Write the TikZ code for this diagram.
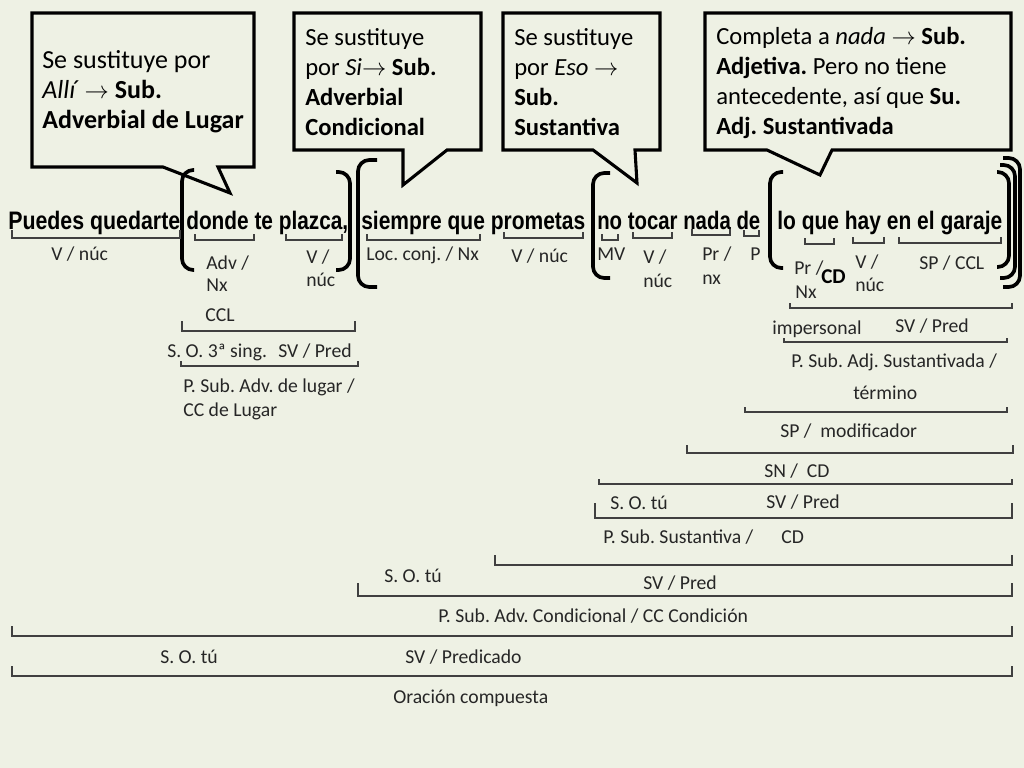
\documentclass[tikz,border=0pt]{standalone}
\usepackage{fontspec}
\setmainfont{Carlito}
\newfontfamily\sentfont{Liberation Sans}
\definecolor{bgcol}{RGB}{238,241,228}
\newlength\pxu
\setlength{\pxu}{0.025cm}
\frenchspacing
\tikzset{
  balloon/.style={line width=2.2pt, line join=miter},
  paren/.style={line width=2.6pt, rounded corners=8pt},
  ubr/.style={line width=0.8pt, draw=black!75},
  lbl/.style={anchor=base west, inner sep=0pt, font=\fontsize{14}{16}\selectfont, text=black!85},
  say/.style={anchor=north west, inner sep=0pt, align=left, font=\fontsize{17.5}{21.3}\selectfont},
  word/.style={anchor=base west, inner sep=0pt, font=\sentfont\bfseries\fontsize{18}{20}\selectfont}
}
\begin{document}
\begin{tikzpicture}[x=0.025cm, y=-0.025cm]
	\fill[bgcol] (0,0) rectangle (1024,768);
	\useasboundingbox (0,0) rectangle (1024,768);
	
	% callouts
	\draw[balloon] (32,13) -- (254,13) -- (254,167) -- (218,167) -- (230,193) -- (163,167) -- (32,167) -- cycle;
	\draw[balloon] (294,13) -- (481,13) -- (481,150) -- (447,150) -- (403,185) -- (403,150) -- (294,150) -- cycle;
	\draw[balloon] (503,13) -- (660,13) -- (660,150) -- (635,150) -- (637,183) -- (593,150) -- (503,150) -- cycle;
	\draw[balloon] (705,13) -- (1011,13) -- (1011,150) -- (832,150) -- (820,175) -- (767,150) -- (705,150) -- cycle;
	
	\node[say, font=\fontsize{18.5}{21.3}\selectfont] (s1) at (42,50) {Se sustituye por\\ \textit{Allí} $\rightarrow$ \textbf{Sub.}\\ \textbf{Adverbial de Lugar}};
	\node[say] (s2) at (305,28) {Se sustituye\\ por \textit{Si}$\rightarrow$ \textbf{Sub.}\\ \textbf{Adverbial}\\ \textbf{Condicional}};
	\node[say] (s3) at (514,28) {Se sustituye\\ por \textit{Eso} $\rightarrow$\\ \textbf{Sub.}\\ \textbf{Sustantiva}};
	\node[say] (s4) at (716,27) {Completa a \textit{nada} $\rightarrow$ \textbf{Sub.}\\ \textbf{Adjetiva.} Pero no tiene\\ antecedente, así que \textbf{Su.}\\ \textbf{Adj. Sustantivada}};
	
	% sentence
	\node[word] (w1) at (8,229) {\resizebox{172\pxu}{\height}{Puedes quedarte}};
	\node[word] (w2) at (186,229) {\resizebox{162\pxu}{\height}{donde te plazca,}};
	\node[word] (w3) at (361,229) {\resizebox{224\pxu}{\height}{siempre que prometas}};
	\node[word] (w4) at (597,229) {\resizebox{163\pxu}{\height}{no tocar nada de}};
	\node[word] (w5) at (777,229) {\resizebox{225\pxu}{\height}{lo que hay en el garaje}};
	
	% parentheses
	\draw[paren] (194,170) -- (182,170) -- (182,270) -- (194,270);
	\draw[paren] (336,172) -- (350,172) -- (350,270) -- (336,270);
	\draw[paren] (377,160) -- (358,160) -- (358,287) -- (377,287);
	\draw[paren] (610,173) -- (593,173) -- (593,278) -- (610,278);
	\draw[paren] (783,172) -- (770,172) -- (770,268) -- (783,268);
	\draw[paren] (997,172) -- (1009,172) -- (1009,267) -- (997,267);
	\draw[paren] (1000,165) -- (1015,165) -- (1015,278) -- (1000,278);
	\draw[paren] (1003,158) -- (1020,158) -- (1020,287) -- (1003,287);
	
	% word brackets
	\draw[ubr] (12,230) |- (180,238) -- (180,230);
	\draw[ubr] (195,234) |- (254,240) -- (254,234);
	\draw[ubr] (286,234) |- (342,240) -- (342,234);
	\draw[ubr] (367,234) |- (480,240) -- (480,234);
	\draw[ubr] (504,232) |- (583,238) -- (583,232);
	\draw[ubr] (602,234) |- (618,240) -- (618,234);
	\draw[ubr] (633,232) |- (672,238) -- (672,232);
	\draw[ubr] (692,229) |- (730,235) -- (730,229);
	\draw[ubr] (744,230) |- (759,236) -- (759,230);
	\draw[ubr] (805,238) |- (834,244) -- (834,238);
	\draw[ubr] (853,237) |- (884,243) -- (884,237);
	\draw[ubr] (899,237) |- (1001,243) -- (1001,237);
	
	% phrase brackets
	\draw[ubr] (182,321) |- (355,331) -- (355,321);
	\draw[ubr] (181,361) |- (358,366) -- (358,361);
	\draw[ubr] (790,303) |- (1012,308) -- (1012,303);
	\draw[ubr] (784,338) |- (1007,342) -- (1007,338);
	\draw[ubr] (745,407) |- (1007,412) -- (1007,407);
	\draw[ubr] (687,445) |- (1013,453) -- (1013,445);
	\draw[ubr] (599,479) |- (1012,484) -- (1012,479);
	\draw[ubr] (595,503) |- (1012,518) -- (1012,503);
	\draw[ubr] (495,555) |- (1012,565) -- (1012,555);
	\draw[ubr] (358,583) |- (1012,596) -- (1012,583);
	\draw[ubr] (12,626) |- (1012,636) -- (1012,626);
	\draw[ubr] (12,666) |- (1012,676) -- (1012,666);
	
	% word labels
	\node[lbl] (l1) at (51,260) {V / núc};
	\node[lbl] (l2a) at (206,269) {Adv /};
	\node[lbl] (l2b) at (206,291) {Nx};
	\node[lbl] (l3a) at (306,263) {V /};
	\node[lbl] (l3b) at (306,286) {núc};
	\node[lbl] (l4) at (366,260) {Loc. conj. / Nx};
	\node[lbl] (l5) at (511,262) {V / núc};
	\node[lbl] (l6) at (597,260) {MV};
	\node[lbl] (l7a) at (643,263) {V /};
	\node[lbl] (l7b) at (643,287) {núc};
	\node[lbl] (l8a) at (702,260) {Pr /};
	\node[lbl] (l8b) at (702,284) {nx};
	\node[lbl] (l9) at (750,260) {P};
	\node[lbl] (l10a) at (794,274) {Pr /};
	\node[lbl] (l10b) at (795,298) {Nx};
	\node[lbl, font=\fontsize{15}{16}\selectfont\bfseries, text=black] (cd) at (821,283) {CD};
	\node[lbl] (l11a) at (855,268) {V /};
	\node[lbl] (l11b) at (855,291) {núc};
	\node[lbl] (l12) at (919,269) {SP / CCL};
	
	% phrase labels
	\node[lbl] (ccl) at (205,321) {CCL};
	\node[lbl] (so1) at (167,357) {S. O. 3ª sing.\hspace{8pt}SV / Pred};
	\node[lbl] (adl1) at (183,392) {P. Sub. Adv. de lugar /};
	\node[lbl] (adl2) at (183,416) {CC de Lugar};
	\node[lbl] (imp) at (772,334) {impersonal};
	\node[lbl] (svp1) at (895,332) {SV / Pred};
	\node[lbl] (adj1) at (791,367) {P. Sub. Adj. Sustantivada /};
	\node[lbl] (adj2) at (853,399) {término};
	\node[lbl] (spm) at (780,437) {SP /\ \ modificador};
	\node[lbl] (sncd) at (764,477) {SN /\ \ CD};
	\node[lbl] (so2) at (610,509) {S. O. tú};
	\node[lbl] (svp2) at (766,508) {SV / Pred};
	\node[lbl] (sust) at (603,543) {P. Sub. Sustantiva /\hspace{20pt}CD};
	\node[lbl] (so3) at (384,582) {S. O. tú};
	\node[lbl] (svp3) at (643,589) {SV / Pred};
	\node[lbl] (cond) at (438,622) {P. Sub. Adv. Condicional / CC Condición};
	\node[lbl] (so4) at (160,663) {S. O. tú};
	\node[lbl] (svpr) at (405,663) {SV / Predicado};
	\node[lbl] (oc) at (393,703) {Oración compuesta};
\end{tikzpicture}
\end{document}
